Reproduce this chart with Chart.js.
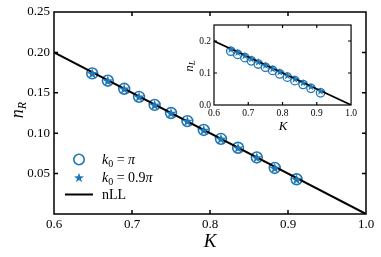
<!DOCTYPE html>
<html><head><meta charset="utf-8">
<script src="https://cdn.jsdelivr.net/npm/chart.js@4"></script>
<style>
html,body{margin:0;padding:0;background:#fff;}
#wrap{position:relative;width:381px;height:257px;overflow:hidden;}
#main{position:absolute;left:0;top:0;}
#inset{position:absolute;left:180px;top:14px;}
</style></head><body>
<div id="wrap"><canvas id="main" width="381" height="257"></canvas><canvas id="inset" width="180" height="120"></canvas></div>
<script>
// ---------- data ----------
const K_values  = [0.649, 0.669, 0.690, 0.709, 0.729, 0.750, 0.771, 0.792, 0.814, 0.836, 0.860, 0.883, 0.911];
const nR_pi     = [0.174, 0.165, 0.155, 0.145, 0.135, 0.125, 0.115, 0.104, 0.093, 0.082, 0.070, 0.057, 0.043];
const nR_09pi   = [0.174, 0.165, 0.155, 0.145, 0.135, 0.125, 0.115, 0.104, 0.093, 0.082, 0.070, 0.057, 0.043];
const nL_pi     = [0.168, 0.158, 0.148, 0.138, 0.128, 0.118, 0.108, 0.097, 0.087, 0.076, 0.064, 0.052, 0.038];
const nL_09pi   = [0.175, 0.165, 0.155, 0.145, 0.135, 0.125, 0.114, 0.104, 0.093, 0.082, 0.070, 0.058, 0.044];
const nLL_K     = [0.6, 1.0];
const nLL_n     = [0.2, 0.0];
const xTicks      = [0.6, 0.7, 0.8, 0.9, 1.0];
const yTicksMain  = [0.05, 0.10, 0.15, 0.20, 0.25];
const yTicksInset = [0.0, 0.1, 0.2];

// ---------- helpers ----------
const BLUE = '#1f77b4';
const SERIF = "'Liberation Serif', 'DejaVu Serif', serif";
const pts = (xs, ys) => xs.map((x, i) => ({x, y: ys[i]}));

function fillStar(ctx, cx, cy, r) {
  ctx.beginPath();
  for (let i = 0; i < 10; i++) {
    const rad = i % 2 ? r * 0.40 : r;
    const a = -Math.PI / 2 + i * Math.PI / 5;
    const x = cx + rad * Math.cos(a), y = cy + 0.5 + rad * Math.sin(a);
    i ? ctx.lineTo(x, y) : ctx.moveTo(x, y);
  }
  ctx.closePath();
  ctx.fillStyle = BLUE;
  ctx.fill();
}

// star markers at the pixel positions Chart.js computed for the star dataset
function starPlugin(datasetIndex, r) {
  return {
    id: 'starMarkers',
    afterDatasetsDraw(chart) {
      const meta = chart.getDatasetMeta(datasetIndex);
      const ctx = chart.ctx;
      ctx.save();
      meta.data.forEach(el => {
        const p = el.getProps(['x', 'y'], true);
        if (isFinite(p.x) && isFinite(p.y)) fillStar(ctx, p.x, p.y, r);
      });
      ctx.restore();
    }
  };
}

function mathText(ctx, parts, x, y, align) {
  let w = 0;
  parts.forEach(p => { ctx.font = (p.italic ? 'italic ' : '') + p.size + 'px ' + SERIF; p.w = ctx.measureText(p.t).width; w += p.w; });
  let cx = align === 'center' ? x - w / 2 : x;
  ctx.textAlign = 'left'; ctx.textBaseline = 'alphabetic'; ctx.fillStyle = '#000';
  parts.forEach(p => { ctx.font = (p.italic ? 'italic ' : '') + p.size + 'px ' + SERIF; ctx.fillText(p.t, cx, y + (p.dy || 0)); cx += p.w; });
}

function framePlugin(tickLen, lw, drawExtra) {
  return {
    id: 'axesFrame',
    afterDraw(chart) {
      const {ctx, chartArea: a, scales: {x, y}} = chart;
      ctx.save();
      ctx.strokeStyle = '#000';
      ctx.lineWidth = lw;
      ctx.strokeRect(a.left, a.top, a.right - a.left, a.bottom - a.top);
      ctx.beginPath();
      x.ticks.forEach(t => {
        const p = x.getPixelForValue(t.value);
        if (p <= a.left + 1 || p >= a.right - 1) return;
        ctx.moveTo(p, a.bottom); ctx.lineTo(p, a.bottom - tickLen);
        ctx.moveTo(p, a.top); ctx.lineTo(p, a.top + tickLen);
      });
      y.ticks.forEach(t => {
        const p = y.getPixelForValue(t.value);
        if (p <= a.top + 1 || p >= a.bottom - 1) return;
        ctx.moveTo(a.left, p); ctx.lineTo(a.left + tickLen, p);
        ctx.moveTo(a.right, p); ctx.lineTo(a.right - tickLen, p);
      });
      ctx.stroke();
      ctx.restore();
      ctx.save();
      drawExtra(ctx);
      ctx.restore();
    }
  };
}
const insetBg = {
  id: 'insetBg',
  beforeDatasetsDraw(chart) {
    const a = chart.chartArea, ctx = chart.ctx;
    ctx.save(); ctx.fillStyle = '#fff'; ctx.fillRect(a.left, a.top, a.right - a.left, a.bottom - a.top); ctx.restore();
  }
};

function axisOpts(min, max, ticks, dec, size, pad, fitProp, fitVal) {
  return {
    type: 'linear', min, max,
    afterBuildTicks: s => { s.ticks = ticks.map(v => ({value: v})); },
    afterFit: s => { s[fitProp] = fitVal; },
    ticks: { font: {family: SERIF, size}, color: '#000', padding: pad, maxRotation: 0, autoSkip: false,
             callback: v => Number(v).toFixed(dec) },
    grid: { display: false, drawTicks: false },
    border: { display: false }
  };
}

// ---------- main chart ----------
new Chart(document.getElementById('main'), {
  type: 'scatter',
  data: {
    datasets: [
      { label: 'nLL', data: pts(nLL_K, nLL_n), showLine: true, borderColor: '#000', borderWidth: 2, pointRadius: 0 },
      { label: 'k0 = 0.9π', data: pts(K_values, nR_09pi), pointStyle: 'circle', pointRadius: 1.5,
        borderColor: BLUE, backgroundColor: BLUE, borderWidth: 0 },
      { label: 'k0 = π', data: pts(K_values, nR_pi), pointStyle: 'circle', pointRadius: 5.4,
        borderColor: BLUE, borderWidth: 1.6, backgroundColor: 'rgba(0,0,0,0)' }
    ]
  },
  options: {
    responsive: false, animation: false, devicePixelRatio: 1,
    layout: { padding: { left: 0, right: 15, top: 12, bottom: 0 } },
    plugins: { legend: { display: false }, tooltip: { enabled: false } },
    scales: {
      x: axisOpts(0.6, 1.0, xTicks, 1, 13, 3, 'height', 43),
      y: axisOpts(0, 0.25, yTicksMain, 2, 13, 4, 'width', 54)
    }
  },
  plugins: [starPlugin(1, 5.6), framePlugin(4, 1.5, ctx => {
    mathText(ctx, [{t: 'K', italic: true, size: 19}], 210, 247, 'center');
    ctx.save(); ctx.translate(23, 110); ctx.rotate(-Math.PI / 2);
    mathText(ctx, [{t: 'n', italic: true, size: 18}, {t: 'R', italic: true, size: 12, dy: 3}], 0, 0, 'center');
    ctx.restore();
    ctx.strokeStyle = BLUE; ctx.lineWidth = 1.6;
    ctx.beginPath(); ctx.arc(79, 159.5, 5.2, 0, Math.PI * 2); ctx.stroke();
    fillStar(ctx, 79, 177.5, 5.2);
    ctx.strokeStyle = '#000'; ctx.lineWidth = 2;
    ctx.beginPath(); ctx.moveTo(65, 194.5); ctx.lineTo(93, 194.5); ctx.stroke();
    mathText(ctx, [{t: 'k', italic: true, size: 14}, {t: '0', size: 10, dy: 2.5}, {t: ' = ', size: 14}, {t: 'π', italic: true, size: 14}], 102, 164);
    mathText(ctx, [{t: 'k', italic: true, size: 14}, {t: '0', size: 10, dy: 2.5}, {t: ' = 0.9', size: 14}, {t: 'π', italic: true, size: 14}], 102, 182);
    mathText(ctx, [{t: 'nLL', size: 14}], 102, 199);
  })]
});

// ---------- inset chart ----------
new Chart(document.getElementById('inset'), {
  type: 'scatter',
  data: {
    datasets: [
      { label: 'nLL', data: pts(nLL_K, nLL_n), showLine: true, borderColor: '#000', borderWidth: 1.6, pointRadius: 0 },
      { label: 'k0 = 0.9π', data: pts(K_values, nL_09pi), pointStyle: 'circle', pointRadius: 1.2,
        borderColor: BLUE, backgroundColor: BLUE, borderWidth: 0 },
      { label: 'k0 = π', data: pts(K_values, nL_pi), pointStyle: 'circle', pointRadius: 4.2,
        borderColor: BLUE, borderWidth: 1.3, backgroundColor: 'rgba(0,0,0,0)' }
    ]
  },
  options: {
    responsive: false, animation: false, devicePixelRatio: 1,
    layout: { padding: { left: 0, right: 7, top: 11, bottom: 0 } },
    plugins: { legend: { display: false }, tooltip: { enabled: false } },
    scales: {
      x: axisOpts(0.6, 1.0, xTicks, 1, 9.5, 3, 'height', 29),
      y: axisOpts(0, 0.25, yTicksInset, 1, 9.5, 3, 'width', 34)
    }
  },
  plugins: [insetBg, starPlugin(1, 4.2), framePlugin(3, 1.2, ctx => {
    mathText(ctx, [{t: 'K', italic: true, size: 13}], 103, 116, 'center');
    ctx.save(); ctx.translate(13, 52); ctx.rotate(-Math.PI / 2);
    mathText(ctx, [{t: 'n', italic: true, size: 13}, {t: 'L', italic: true, size: 9, dy: 2}], 0, 0, 'center');
    ctx.restore();
  })]
});
</script>
</body></html>
